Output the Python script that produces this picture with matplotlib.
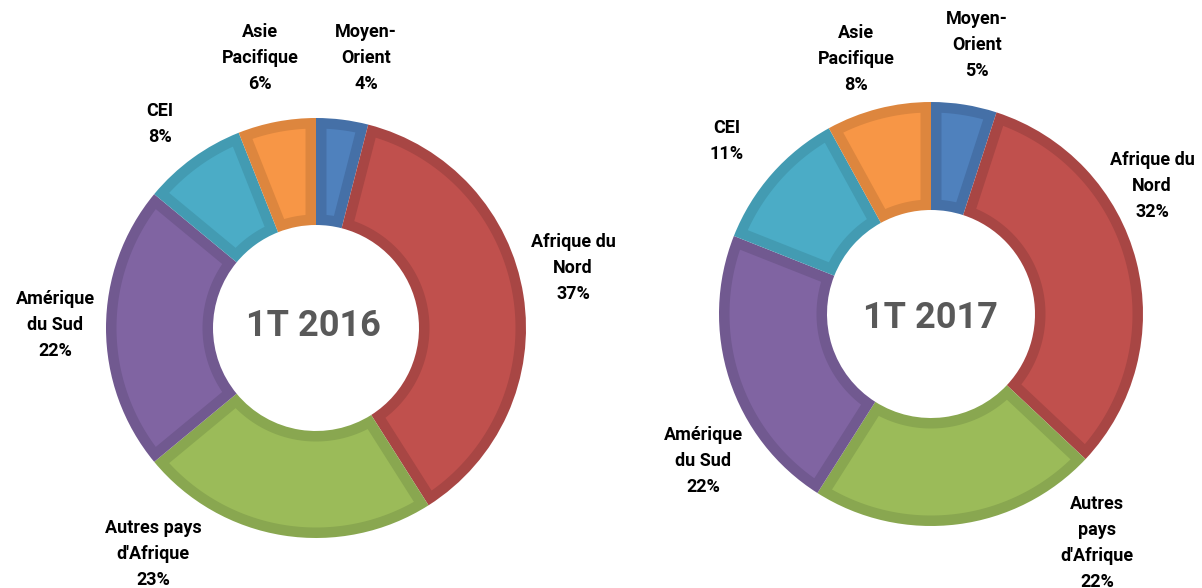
import numpy as np
import matplotlib.pyplot as plt
from matplotlib.patches import Polygon

# Régions (sens horaire depuis midi)
regions = ['Moyen-Orient', 'Afrique du Nord', "Autres pays d'Afrique",
           'Amérique du Sud', 'CEI', 'Asie Pacifique']
parts_2016 = [4, 37, 23, 22, 8, 6]
parts_2017 = [5, 32, 22, 22, 11, 8]
titles = ['1T 2016', '1T 2017']
labels_2016 = ['Moyen-\nOrient', 'Afrique du\nNord', "Autres pays\nd'Afrique",
               'Amérique\ndu Sud', 'CEI', 'Asie\nPacifique']
labels_2017 = ['Moyen-\nOrient', 'Afrique du\nNord', "Autres\npays\nd'Afrique",
               'Amérique\ndu Sud', 'CEI', 'Asie\nPacifique']

colors = ['#4F81BD', '#C0504D', '#9BBB59', '#8064A2', '#4BACC6', '#F79646']
borders = ['#4570A7', '#A84644', '#89A750', '#715990', '#439BB2', '#DD863E']

W, H = 1202, 588
# layout in pixel coords (y up)
centers = [(316, H - 328), (931, H - 314)]
radii = [210, 212]
holes = [103, 104]
bevel = 10.5
label_pos = [
    [(366, H - 58), (573, H - 268), (153, H - 554), (55, H - 325), (160, H - 124), (260, H - 58)],
    [(977, H - 45), (1152, H - 186), (1097, H - 543), (703, H - 461), (727, H - 141), (856, H - 59)],
]
title_pos = [(313, H - 326), (930, H - 318)]

plt.rcParams['font.family'] = ['Roboto', 'DejaVu Sans']


def inner_face(w, d):
    # lighter part of a slice, set back by d from every edge
    cx, cy = w.center
    ro, ri = w.r - d, w.r - w.width + d
    t1, t2 = np.radians(w.theta1), np.radians(w.theta2)
    a_o = np.linspace(t1 + np.arcsin(d / ro), t2 - np.arcsin(d / ro), 80)
    a_i = np.linspace(t2 - np.arcsin(d / ri), t1 + np.arcsin(d / ri), 80)
    xs = np.concatenate([cx + ro * np.cos(a_o), cx + ri * np.cos(a_i)])
    ys = np.concatenate([cy + ro * np.sin(a_o), cy + ri * np.sin(a_i)])
    return np.column_stack([xs, ys])


fig = plt.figure(figsize=(W / 100, H / 100), dpi=100)
ax = fig.add_axes([0, 0, 1, 1])

for k, (vals, labs) in enumerate([(parts_2016, labels_2016), (parts_2017, labels_2017)]):
    wedges, _ = ax.pie(vals, radius=radii[k], center=centers[k], startangle=90,
                       counterclock=False, colors=borders,
                       wedgeprops=dict(width=radii[k] - holes[k], linewidth=0))
    for w, c in zip(wedges, colors):
        ax.add_patch(Polygon(inner_face(w, bevel), closed=True, facecolor=c,
                             edgecolor='none'))
    for lab, v, (x, y) in zip(labs, vals, label_pos[k]):
        ax.text(x, y, f'{lab}\n{v}%', ha='center', va='center', fontsize=13,
                fontweight='bold', linespacing=1.55, color='black')
    ax.text(title_pos[k][0], title_pos[k][1], titles[k], ha='center', va='center',
            fontsize=26, fontweight='bold', color='#595959')

ax.set_xlim(0, W)
ax.set_ylim(0, H)
ax.set_aspect('equal')
ax.axis('off')
fig.savefig('out.png', dpi=100)
